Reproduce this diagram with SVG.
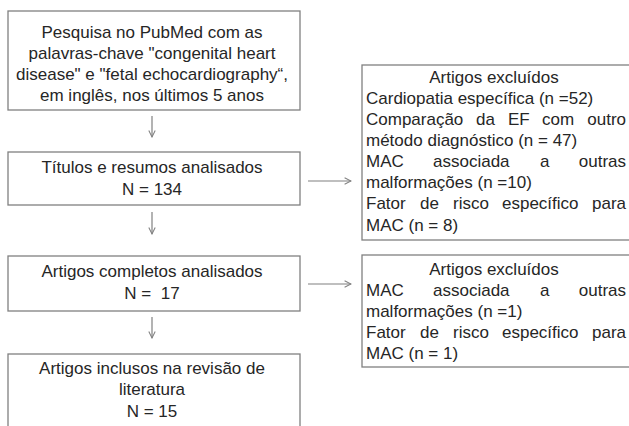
<svg xmlns="http://www.w3.org/2000/svg" width="629" height="426" viewBox="0 0 629 426">
<defs>
<style>
.box{fill:#ffffff;stroke:#808080;stroke-width:1.3}
.t{font-family:"Liberation Sans",Arial,sans-serif;font-size:17px;fill:#262626}
.c{text-anchor:middle}
.e{text-anchor:end}
.con{stroke:#808080;stroke-width:1.2;fill:none}
</style>
<marker id="ah" viewBox="0 0 10 10" refX="9" refY="5" markerWidth="8" markerHeight="8" markerUnits="userSpaceOnUse" orient="auto">
<path d="M1,1 L9,5 L1,9" fill="none" stroke="#808080" stroke-width="1.3"/>
</marker>
</defs>
<rect width="629" height="426" fill="#ffffff"/>
<g id="connectors">
<line class="con" x1="152" y1="116" x2="152" y2="137" marker-end="url(#ah)"/>
<line class="con" x1="152" y1="212" x2="152" y2="234" marker-end="url(#ah)"/>
<line class="con" x1="152" y1="317" x2="152" y2="338" marker-end="url(#ah)"/>
<line class="con" x1="308" y1="181" x2="351" y2="181" marker-end="url(#ah)"/>
<line class="con" x1="308" y1="284" x2="351" y2="284" marker-end="url(#ah)"/>
</g>
<g id="search">
<rect class="box" x="8" y="11" width="292" height="99"/>
<text class="t c" x="152" y="38">Pesquisa no PubMed com as</text>
<text class="t c" x="152" y="59">palavras-chave "congenital heart</text>
<text class="t c" x="152" y="80">disease" e "fetal echocardiography“,</text>
<text class="t c" x="152" y="101">em inglês, nos últimos 5 anos</text>
</g>
<g id="titles">
<rect class="box" x="8" y="152" width="292" height="53"/>
<text class="t c" x="152" y="173">Títulos e resumos analisados</text>
<text class="t c" x="152" y="195">N = 134</text>
</g>
<g id="complete">
<rect class="box" x="8" y="256" width="292" height="55"/>
<text class="t c" x="152" y="277">Artigos completos analisados</text>
<text class="t c" x="152" y="299" style="white-space:pre">N =  17</text>
</g>
<g id="included">
<rect class="box" x="8" y="354" width="292" height="80"/>
<text class="t c" x="152" y="374">Artigos inclusos na revisão de</text>
<text class="t c" x="152" y="395">literatura</text>
<text class="t c" x="152" y="417">N = 15</text>
</g>
<g id="excluded1">
<rect class="box" x="362" y="65" width="275" height="175"/>
<text class="t c" x="494" y="83">Artigos excluídos</text>
<text class="t" x="366" y="104">Cardiopatia específica (n =52)</text>
<text class="t" y="125"><tspan x="366">Comparação</tspan><tspan x="476">da</tspan><tspan x="508">EF</tspan><tspan x="542">com</tspan><tspan class="e" x="626">outro</tspan></text>
<text class="t" x="366" y="146">método diagnóstico (n = 47)</text>
<text class="t" y="167"><tspan x="366">MAC</tspan><tspan x="433">associada</tspan><tspan x="540">a</tspan><tspan class="e" x="626">outras</tspan></text>
<text class="t" x="366" y="188">malformações (n =10)</text>
<text class="t" y="209"><tspan x="366">Fator</tspan><tspan x="420">de</tspan><tspan x="453">risco</tspan><tspan x="502">específico</tspan><tspan class="e" x="626">para</tspan></text>
<text class="t" x="366" y="231">MAC (n = 8)</text>
</g>
<g id="excluded2">
<rect class="box" x="362" y="255" width="275" height="112"/>
<text class="t c" x="494" y="275">Artigos excluídos</text>
<text class="t" y="296"><tspan x="366">MAC</tspan><tspan x="433">associada</tspan><tspan x="540">a</tspan><tspan class="e" x="626">outras</tspan></text>
<text class="t" x="366" y="317">malformações (n =1)</text>
<text class="t" y="338"><tspan x="366">Fator</tspan><tspan x="420">de</tspan><tspan x="453">risco</tspan><tspan x="502">específico</tspan><tspan class="e" x="626">para</tspan></text>
<text class="t" x="366" y="359">MAC (n = 1)</text>
</g>
</svg>
